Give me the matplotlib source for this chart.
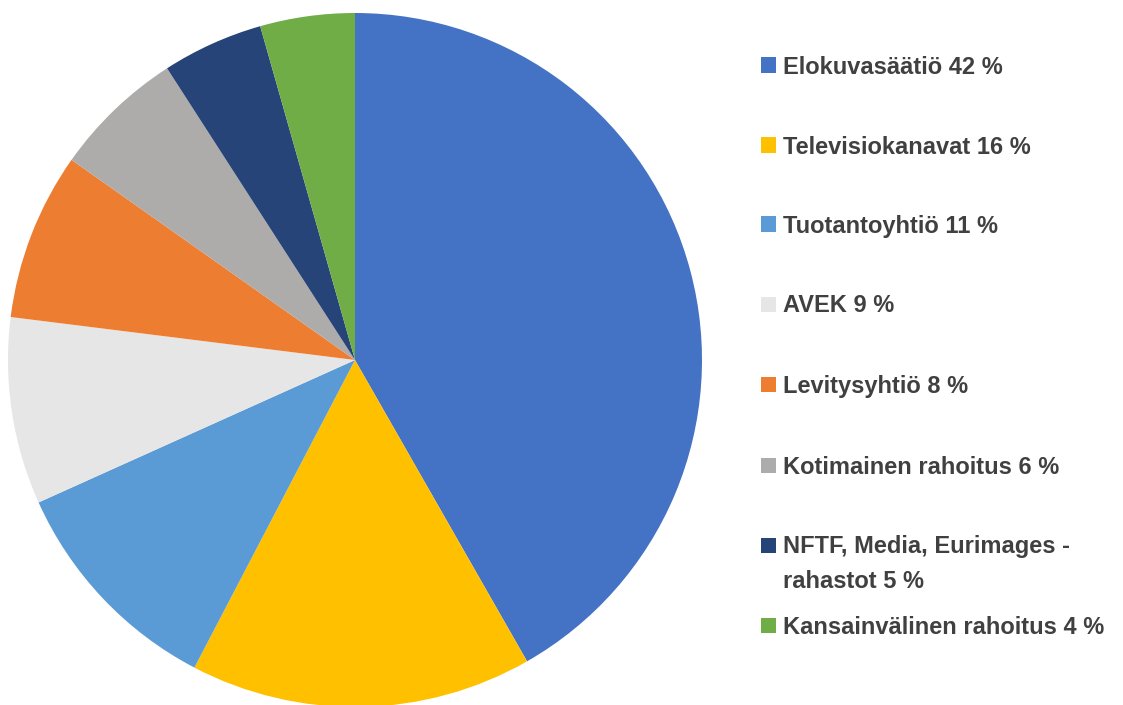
import matplotlib.pyplot as plt
from matplotlib.patches import Rectangle

plt.rcParams['font.family'] = ['Liberation Sans', 'DejaVu Sans']

labels = ['Elokuvasäätiö 42 %', 'Televisiokanavat 16 %', 'Tuotantoyhtiö 11 %',
          'AVEK 9 %', 'Levitysyhtiö 8 %', 'Kotimainen rahoitus 6 %',
          'NFTF, Media, Eurimages -\nrahastot 5 %', 'Kansainvälinen rahoitus 4 %']
shares = [41.7, 15.9, 10.6, 8.7, 7.8, 6.1, 4.7, 4.4]
colors = ['#4472C4', '#FFC000', '#5B9BD5', '#E7E6E6', '#ED7D31',
          '#AEABAB', '#264478', '#70AD47']

W, H = 1123, 705
fig = plt.figure(figsize=(W / 100, H / 100), dpi=100)

# pie axes: centre (355, 360) px, radius 347 px
cx, cy, r = 355, 360, 347
ax = fig.add_axes([(cx - r) / W, (H - cy - r) / H, 2 * r / W, 2 * r / H])
ax.pie(shares, colors=colors, startangle=90, counterclock=False, radius=1,
       wedgeprops=dict(linewidth=0))
ax.set_xlim(-1, 1)
ax.set_ylim(-1, 1)
ax.set_aspect('equal')
ax.axis('off')

# legend, drawn by hand to match spacing (pixel rows from top)
row_y = [65, 145, 224, 304, 384, 465, 545, 625]
line_gap = 35
for lab, col, y in zip(labels, colors, row_y):
    fig.patches.append(Rectangle((761 / W, 1 - (y + 7.5) / H), 15 / W, 15 / H,
                                 transform=fig.transFigure, facecolor=col,
                                 edgecolor='none'))
    for i, part in enumerate(lab.split('\n')):
        fig.text(783 / W, 1 - (y + 2 + i * line_gap) / H, part,
                 fontsize=17, fontweight='bold', color='#404040',
                 va='center', ha='left')

fig.savefig('out.png', dpi=100)
